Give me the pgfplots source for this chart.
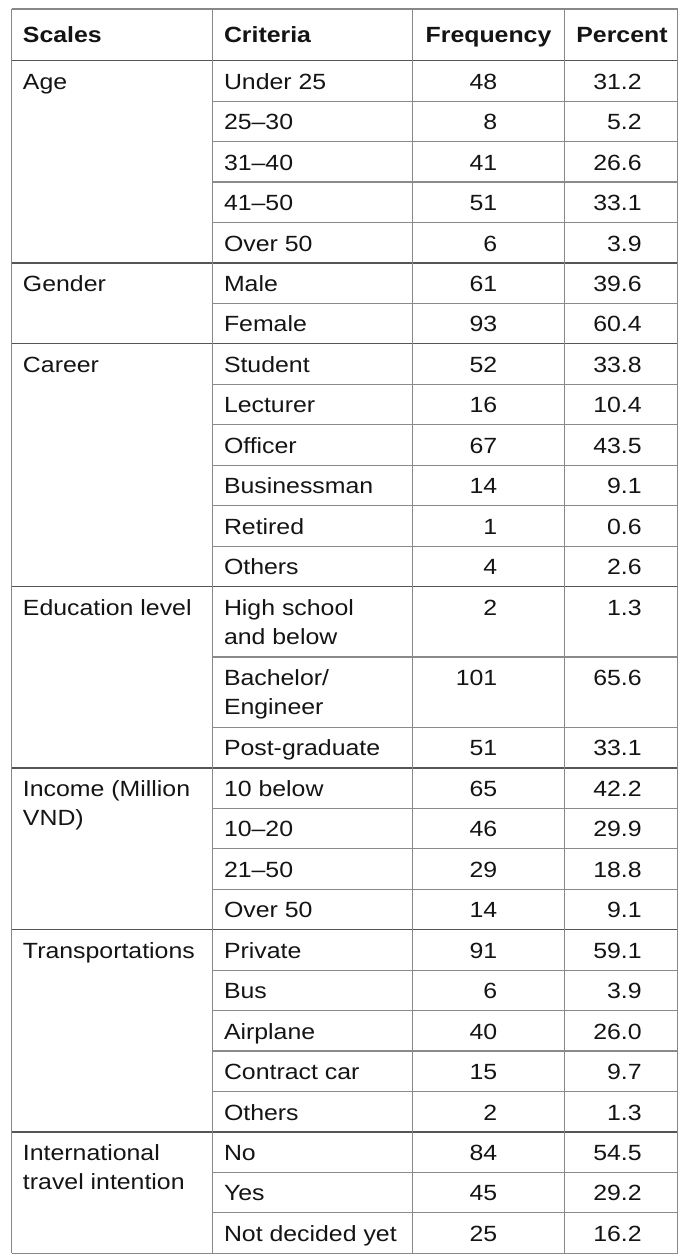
\documentclass[border=0pt]{standalone}
\usepackage{fontspec}
\setmainfont[FakeStretch=1.13]{Liberation Sans}
\usepackage{pgfplots}
\usepackage{pgfplotstable}
\pgfplotsset{compat=1.18}

% left-aligned text: x = left edge, y = baseline (px from top)
\pgfplotstableread[col sep=semicolon]{
x;y;t
224;89.2;Under 25
224;129.65;25–30
224;170.1;31–40
224;210.55;41–50
224;251.0;Over 50
224;291.45;Male
224;331.9;Female
224;372.35;Student
224;412.8;Lecturer
224;453.25;Officer
224;493.7;Businessman
224;534.15;Retired
224;574.6;Others
224;615.05;High school
224;644.05;and below
224;685.5;Bachelor/
224;714.5;Engineer
224;755.95;Post-graduate
224;796.4;10 below
224;836.85;10–20
224;877.3;21–50
224;917.75;Over 50
224;958.2;Private
224;998.65;Bus
224;1039.1;Airplane
224;1079.55;Contract car
224;1120.0;Others
224;1160.45;No
224;1200.9;Yes
224;1241.35;Not decided yet
23;89.2;Age
23;291.45;Gender
23;372.35;Career
23;615.05;Education level
23;796.4;Income (Million
23;825.4;VND)
23;958.2;Transportations
23;1160.45;International
23;1189.45;travel intention
}\lefttext

% frequency (x = right edge 497.3) and percent (x = right edge 641.7)
\pgfplotstableread[col sep=semicolon]{
x;y;t
497.3;89.2;48
497.3;129.65;8
497.3;170.1;41
497.3;210.55;51
497.3;251.0;6
497.3;291.45;61
497.3;331.9;93
497.3;372.35;52
497.3;412.8;16
497.3;453.25;67
497.3;493.7;14
497.3;534.15;1
497.3;574.6;4
497.3;615.05;2
497.3;685.5;101
497.3;755.95;51
497.3;796.4;65
497.3;836.85;46
497.3;877.3;29
497.3;917.75;14
497.3;958.2;91
497.3;998.65;6
497.3;1039.1;40
497.3;1079.55;15
497.3;1120.0;2
497.3;1160.45;84
497.3;1200.9;45
497.3;1241.35;25
641.7;89.2;31.2
641.7;129.65;5.2
641.7;170.1;26.6
641.7;210.55;33.1
641.7;251.0;3.9
641.7;291.45;39.6
641.7;331.9;60.4
641.7;372.35;33.8
641.7;412.8;10.4
641.7;453.25;43.5
641.7;493.7;9.1
641.7;534.15;0.6
641.7;574.6;2.6
641.7;615.05;1.3
641.7;685.5;65.6
641.7;755.95;33.1
641.7;796.4;42.2
641.7;836.85;29.9
641.7;877.3;18.8
641.7;917.75;9.1
641.7;958.2;59.1
641.7;998.65;3.9
641.7;1039.1;26.0
641.7;1079.55;9.7
641.7;1120.0;1.3
641.7;1160.45;54.5
641.7;1200.9;29.2
641.7;1241.35;16.2
}\numtext

\definecolor{vline}{HTML}{888888}
\definecolor{hdark}{HTML}{555555}
\definecolor{hlight}{HTML}{8A8A8A}

\pgfplotsset{textonly/.style={only marks, mark=*, mark size=0pt,
  mark options={draw opacity=0, fill opacity=0, line width=0pt},
  nodes near coords, point meta=explicit symbolic}}

\begin{document}
\begin{tikzpicture}
\begin{axis}[
  scale only axis, width=699pt, height=1255pt,
  xmin=0, xmax=699, ymin=0, ymax=1255, y dir=reverse,
  hide axis, clip=false,
  every node near coord/.append style={inner sep=0pt, text=black!92,
    draw opacity=1, fill opacity=1, text opacity=1,
    font=\fontsize{22}{26}\selectfont},
]
\path (axis cs:0,0) rectangle (axis cs:699,1255);
% inner horizontal lines (criteria columns only)
\pgfplotsinvokeforeach{101.15,141.6,182.05,222.5,303.4,384.3,424.75,465.2,505.65,546.1,657.0,727.45,808.35,848.8,889.25,970.15,1010.6,1051.05,1091.5,1172.4,1212.85}{
  \draw[hlight, line width=1.2pt] (axis cs:212.3,#1) -- (axis cs:677.7,#1);
}
% group horizontal lines
\pgfplotsinvokeforeach{60.7,262.95,343.85,586.55,767.9,929.7,1131.95}{
  \draw[hdark, line width=1.2pt] (axis cs:11.5,#1) -- (axis cs:677.7,#1);
}
\draw[vline, line width=1.2pt] (axis cs:11.5,9) -- (axis cs:677.7,9);
\draw[vline, line width=1.2pt] (axis cs:11.5,1253.3) -- (axis cs:677.7,1253.3);
% vertical lines
\pgfplotsinvokeforeach{11.5,212.3,412.3,564.3,677.7}{
  \draw[vline, line width=1.2pt] (axis cs:#1,9) -- (axis cs:#1,1253.3);
}
% text
\addplot[textonly,
  every node near coord/.append style={anchor=base west}]
  table[x=x, y=y, meta=t] {\lefttext};
\addplot[textonly,
  every node near coord/.append style={anchor=base east}]
  table[x=x, y=y, meta=t] {\numtext};
% headers
\addplot[textonly,
  every node near coord/.append style={anchor=base west, font=\fontsize{22}{26}\selectfont\bfseries}]
  table[x=x, y=y, meta=t, col sep=semicolon] {
x;y;t
23;43;Scales
224;43;Criteria
};
\addplot[textonly,
  every node near coord/.append style={anchor=base, font=\fontsize{22}{26}\selectfont\bfseries}]
  table[x=x, y=y, meta=t, col sep=semicolon] {
x;y;t
488.5;43;Frequency
622;43;Percent
};
\end{axis}
\end{tikzpicture}
\end{document}
